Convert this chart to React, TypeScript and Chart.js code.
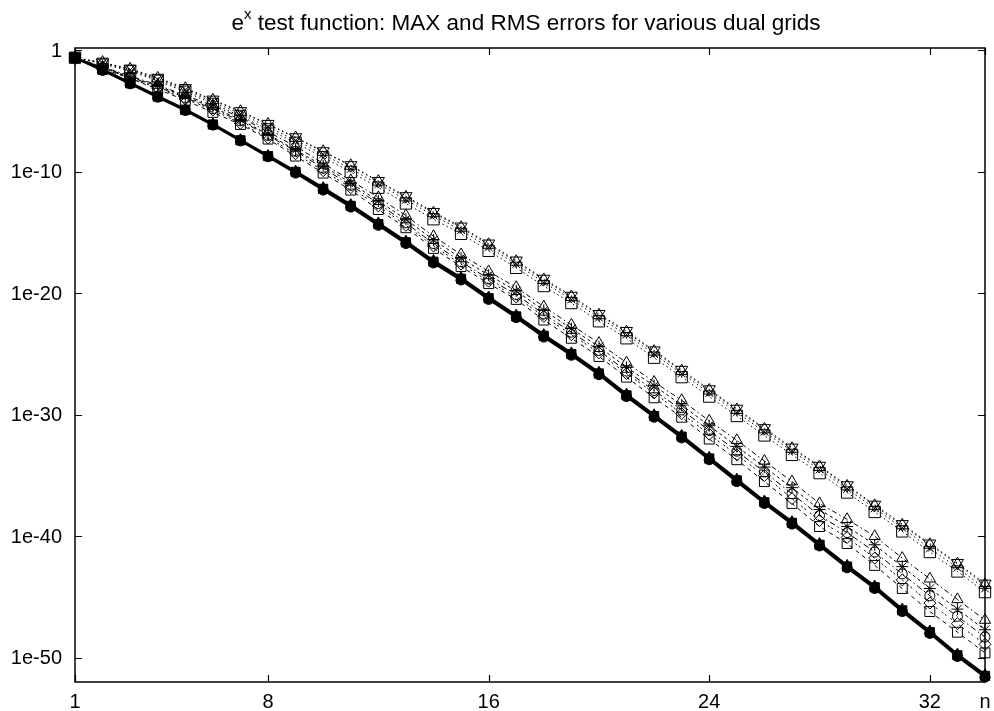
import React, { useEffect, useRef } from 'react';
import { Chart, registerables } from 'chart.js';

Chart.register(...registerables);

// grid size n
const nValues = [1, 2, 3, 4, 5, 6, 7, 8, 9, 10, 11, 12, 13, 14, 15, 16, 17, 18, 19, 20, 21, 22, 23, 24, 25, 26, 27, 28, 29, 30, 31, 32, 33, 34];

const xTicks = [1, 8, 16, 24, 32, 34];
const xTickLabels = ['1', '8', '16', '24', '32', 'n'];
const yTicks = [1, 1e-10, 1e-20, 1e-30, 1e-40, 1e-50];
const yTickLabels = ['1', '1e-10', '1e-20', '1e-30', '1e-40', '1e-50'];

// errors, given as negative decimal exponents (error = 10^-e)
// lowest group (solid lines, filled markers)
const solidA = [0.6, 1.6, 2.7, 3.8, 4.9, 6.1, 7.4, 8.7, 10.0, 11.4, 12.8, 14.3, 15.8, 17.4, 18.8, 20.4, 21.9, 23.5, 25.0, 26.6, 28.4, 30.1, 31.8, 33.6, 35.4, 37.2, 38.9, 40.7, 42.5, 44.2, 46.1, 47.9, 49.8, 51.5];
const solidB = [0.6, 1.65, 2.75, 3.85, 4.95, 6.15, 7.45, 8.75, 10.1, 11.5, 12.9, 14.4, 15.9, 17.5, 18.9, 20.5, 22.0, 23.6, 25.1, 26.7, 28.5, 30.2, 31.9, 33.7, 35.5, 37.3, 39.0, 40.8, 42.6, 44.3, 46.2, 48.0, 49.9, 51.6];
const solidC = [0.6, 1.55, 2.65, 3.75, 4.85, 6.05, 7.35, 8.65, 9.95, 11.3, 12.7, 14.2, 15.7, 17.3, 18.7, 20.3, 21.8, 23.4, 24.9, 26.5, 28.3, 30.0, 31.7, 33.5, 35.3, 37.1, 38.8, 40.6, 42.4, 44.1, 46.0, 47.8, 49.7, 51.4];

// middle group (dash-dot lines, hollow markers)
const midA = [0.6, 1.35, 2.1, 2.85, 3.7, 4.55, 5.5, 6.7, 7.9, 9.3, 10.7, 12.1, 13.6, 15.3, 16.8, 18.2, 19.5, 21.1, 22.6, 24.1, 25.7, 27.3, 28.8, 30.5, 32.1, 33.8, 35.5, 37.3, 38.6, 40.0, 41.8, 43.5, 45.2, 46.9];
const midB = [0.6, 1.4, 2.2, 2.9, 3.8, 4.7, 5.7, 6.9, 8.2, 9.5, 10.9, 12.4, 13.9, 15.6, 17.1, 18.5, 19.8, 21.4, 22.9, 24.4, 26.1, 27.6, 29.2, 30.9, 32.6, 34.3, 36.0, 37.8, 39.2, 40.7, 42.5, 44.3, 46.0, 47.7];
const midC = [0.6, 1.4, 2.2, 3.0, 3.9, 4.8, 5.8, 7.0, 8.3, 9.7, 11.1, 12.6, 14.2, 15.9, 17.4, 18.8, 20.1, 21.7, 23.2, 24.7, 26.4, 28.0, 29.6, 31.3, 33.0, 34.7, 36.5, 38.3, 39.7, 41.3, 43.1, 44.9, 46.6, 48.3];
const midD = [0.6, 1.4, 2.3, 3.1, 4.0, 4.9, 6.0, 7.2, 8.5, 9.9, 11.3, 12.8, 14.4, 16.1, 17.6, 19.0, 20.3, 21.9, 23.4, 24.9, 26.6, 28.2, 29.9, 31.6, 33.3, 35.0, 36.9, 38.7, 40.1, 41.8, 43.6, 45.5, 47.2, 48.9];
const midE = [0.6, 1.5, 2.3, 3.2, 4.1, 5.1, 6.1, 7.3, 8.7, 10.1, 11.5, 13.1, 14.6, 16.3, 17.8, 19.2, 20.5, 22.2, 23.7, 25.2, 26.9, 28.6, 30.2, 32.0, 33.7, 35.5, 37.3, 39.2, 40.6, 42.4, 44.3, 46.2, 47.9, 49.6];

// top group (dotted lines)
const dotA = [0.6, 1.0, 1.55, 2.3, 3.15, 4.1, 5.05, 6.1, 7.2, 8.35, 9.5, 10.8, 12.1, 13.4, 14.6, 16.0, 17.4, 18.9, 20.3, 21.8, 23.2, 24.8, 26.4, 28.0, 29.6, 31.2, 32.8, 34.3, 35.9, 37.5, 39.1, 40.7, 42.3, 44.0];
const dotB = [0.6, 1.0, 1.5, 2.25, 3.1, 4.05, 5.0, 6.05, 7.15, 8.3, 9.45, 10.75, 12.0, 13.3, 14.5, 15.9, 17.3, 18.8, 20.2, 21.7, 23.1, 24.7, 26.3, 27.9, 29.5, 31.1, 32.7, 34.2, 35.8, 37.4, 39.0, 40.6, 42.2, 43.9];
const dotC = [0.6, 1.05, 1.6, 2.4, 3.25, 4.25, 5.2, 6.3, 7.4, 8.55, 9.75, 11.0, 12.3, 13.6, 14.8, 16.2, 17.6, 19.1, 20.5, 22.0, 23.4, 25.0, 26.6, 28.2, 29.8, 31.4, 33.0, 34.5, 36.1, 37.7, 39.3, 41.0, 42.6, 44.3];
const dotD = [0.6, 1.1, 1.7, 2.5, 3.4, 4.4, 5.4, 6.5, 7.6, 8.8, 10.0, 11.3, 12.6, 13.9, 15.1, 16.5, 17.9, 19.4, 20.8, 22.3, 23.7, 25.3, 26.9, 28.5, 30.1, 31.7, 33.3, 34.8, 36.4, 38.0, 39.6, 41.3, 42.9, 44.6];

const titleMain = 'e';
const titleSup = 'x';
const titleRest = ' test function: MAX and RMS errors for various dual grids';

const FONT = '"Liberation Sans", Arial, Helvetica, sans-serif';

function toPoints(exps: number[]) {
  return nValues.map((n, i) => ({ x: n, y: Math.pow(10, -exps[i]) }));
}

const framePlugin = {
  id: 'gnuFrame',
  afterDraw(chart: any) {
    const { ctx, chartArea: a, scales } = chart;
    const x = scales.x;
    const y = scales.y;
    ctx.save();
    ctx.strokeStyle = '#000';
    ctx.lineWidth = 1.5;
    ctx.strokeRect(a.left, a.top, a.right - a.left, a.bottom - a.top);
    ctx.lineWidth = 1.2;
    ctx.beginPath();
    xTicks.forEach((v) => {
      const px = Math.round(x.getPixelForValue(v)) + 0.5;
      ctx.moveTo(px, a.bottom);
      ctx.lineTo(px, a.bottom - 7);
      ctx.moveTo(px, a.top);
      ctx.lineTo(px, a.top + 7);
    });
    yTicks.forEach((v) => {
      const py = Math.round(y.getPixelForValue(v)) + 0.5;
      ctx.moveTo(a.left, py);
      ctx.lineTo(a.left + 7, py);
      ctx.moveTo(a.right, py);
      ctx.lineTo(a.right - 7, py);
    });
    ctx.stroke();

    ctx.fillStyle = '#000';
    ctx.font = '20px ' + FONT;
    ctx.textAlign = 'center';
    ctx.textBaseline = 'alphabetic';
    xTicks.forEach((v, i) => {
      ctx.fillText(xTickLabels[i], x.getPixelForValue(v), a.bottom + 26);
    });
    ctx.textAlign = 'right';
    ctx.textBaseline = 'middle';
    yTicks.forEach((v, i) => {
      ctx.fillText(yTickLabels[i], a.left - 13, y.getPixelForValue(v) + 1);
    });

    // title with superscript
    const big = '22.5px ' + FONT;
    const small = '15px ' + FONT;
    ctx.textAlign = 'left';
    ctx.textBaseline = 'alphabetic';
    ctx.font = big;
    const w1 = ctx.measureText(titleMain).width;
    const w3 = ctx.measureText(titleRest).width;
    ctx.font = small;
    const w2 = ctx.measureText(titleSup).width;
    const total = w1 + w2 + w3;
    let sx = (a.left + a.right) / 2 - total / 2 - 4;
    const base = 30;
    ctx.font = big;
    ctx.fillText(titleMain, sx, base);
    sx += w1;
    ctx.font = small;
    ctx.fillText(titleSup, sx, base - 11);
    sx += w2;
    ctx.font = big;
    ctx.fillText(titleRest, sx, base);
    ctx.restore();
  },
};

export default function App() {
  const ref = useRef<HTMLCanvasElement | null>(null);

  useEffect(() => {
    document.body.style.margin = '0';
    const canvas = ref.current;
    if (!canvas) return;

    const solidStyle = (pointStyle: string, r: number) => ({
      borderColor: '#000',
      backgroundColor: '#000',
      borderWidth: 2.2,
      pointStyle,
      pointRadius: r,
      pointBackgroundColor: '#000',
      pointBorderColor: '#000',
      pointBorderWidth: 1,
    });
    const hollowStyle = (pointStyle: string, r: number, dash: number[], rot = 0) => ({
      borderColor: '#000',
      backgroundColor: 'rgba(0,0,0,0)',
      borderWidth: 1,
      borderDash: dash,
      pointStyle,
      pointRadius: r,
      pointRotation: rot,
      pointBackgroundColor: 'rgba(0,0,0,0)',
      pointBorderColor: '#000',
      pointBorderWidth: 1,
    });

    const datasets: any[] = [
      { label: 'dotA', data: toPoints(dotA), ...hollowStyle('triangle', 7, [1.5, 3]) },
      { label: 'dotB', data: toPoints(dotB), ...hollowStyle('triangle', 7, [1.5, 3], 180) },
      { label: 'dotC', data: toPoints(dotC), ...hollowStyle('crossRot', 5.5, [1.5, 3]) },
      { label: 'dotD', data: toPoints(dotD), ...hollowStyle('rect', 8, [1.5, 3]) },
      { label: 'midA', data: toPoints(midA), ...hollowStyle('triangle', 6.5, [5, 3, 1.5, 3]) },
      { label: 'midB', data: toPoints(midB), ...hollowStyle('star', 6, [3, 3]) },
      { label: 'midC', data: toPoints(midC), ...hollowStyle('circle', 5, [6, 3, 1.5, 3]) },
      { label: 'midD', data: toPoints(midD), ...hollowStyle('rectRot', 6, [2, 2, 2, 5]) },
      { label: 'midE', data: toPoints(midE), ...hollowStyle('rect', 7, [4, 4]) },
      { label: 'solidA', data: toPoints(solidA), ...solidStyle('rect', 6.5) },
      { label: 'solidB', data: toPoints(solidB), ...solidStyle('circle', 5) },
      { label: 'solidC', data: toPoints(solidC), ...solidStyle('triangle', 6) },
    ];
    datasets.forEach((d) => {
      d.tension = 0;
      d.clip = false;
      d.fill = false;
    });

    const chart = new Chart(canvas, {
      type: 'line',
      data: { datasets },
      plugins: [framePlugin],
      options: {
        responsive: false,
        animation: false,
        events: [],
        layout: { padding: { top: 48, right: 2, left: 0, bottom: 0 } },
        plugins: {
          legend: { display: false },
          title: { display: false },
          tooltip: { enabled: false },
        },
        scales: {
          x: {
            type: 'linear',
            min: 1,
            max: 34,
            grid: { display: false, drawTicks: false },
            border: { display: false },
            ticks: { display: false },
            afterFit: (s: any) => {
              s.height = 29;
            },
          },
          y: {
            type: 'logarithmic',
            min: 1e-52,
            max: Math.pow(10, 0.2),
            grid: { display: false, drawTicks: false },
            border: { display: false },
            ticks: { display: false },
            afterFit: (s: any) => {
              s.width = 75;
            },
          },
        },
      },
    });
    return () => chart.destroy();
  }, []);

  return (
    <div style={{ position: 'absolute', left: 0, top: 0, width: 994, height: 711, background: '#fff' }}>
      <canvas ref={ref} width={994} height={711} style={{ display: 'block' }} />
    </div>
  );
}
